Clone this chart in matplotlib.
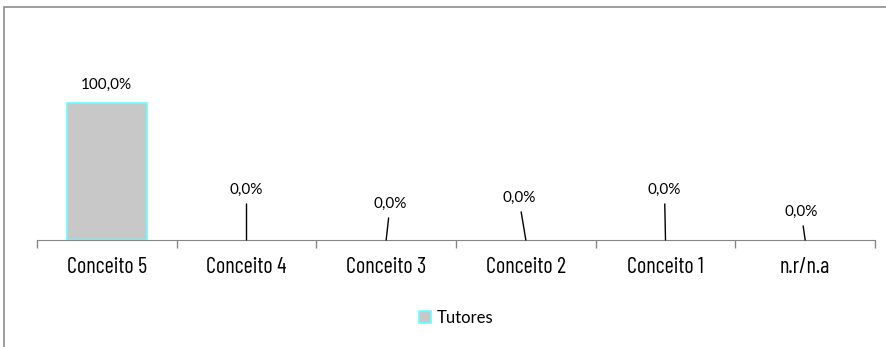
import matplotlib
matplotlib.use("Agg")
import matplotlib.pyplot as plt
from matplotlib.patches import Rectangle, Patch

# Chart data
categories = ["Conceito 5", "Conceito 4", "Conceito 3", "Conceito 2", "Conceito 1", "n.r/n.a"]
tutores = [100.0, 0.0, 0.0, 0.0, 0.0, 0.0]
series_name = "Tutores"

# label offsets (pixels) for the data labels, as placed in the original
label_offsets = [(0, 18), (0, 50), (4, 36), (-7, 42), (-1, 50), (-4, 28)]

W, H = 887, 347
fig = plt.figure(figsize=(W / 100, H / 100), dpi=100)
fig.patch.set_facecolor("white")

# outer chart frame (runs off the right/bottom edge)
fig.patches.append(Rectangle((4 / W, -0.2), 2, 1.2 - 7 / H, transform=fig.transFigure,
                             fill=False, edgecolor="#8c8c8c", lw=1.2))

ax_bottom = (H - 240) / H
ax_top = 240 - 137 * 1.2
ax = fig.add_axes([37 / W, ax_bottom, 838 / W, (240 - ax_top) / H])

x = list(range(len(categories)))
# zero-height bars get no visible edge, like in the original
edge_w = [1.2 if v > 0 else 0 for v in tutores]
ax.bar(x, tutores, width=0.57, color="#c8c8c8", edgecolor="#66ffff", linewidth=edge_w, zorder=2)
ax.set_xlim(-0.5, len(categories) - 0.5)
ax.set_ylim(0, 120)

label_font = ["Lato", "DejaVu Sans"]
for i, v in enumerate(tutores):
    dx, dy = label_offsets[i]
    txt = f"{v:.1f}%".replace(".", ",")
    if v > 0:
        ax.annotate(txt, xy=(i, v), xytext=(dx, dy), textcoords="offset pixels",
                    ha="center", va="center", fontsize=11, family=label_font)
    else:
        ax.annotate(txt, xy=(i, v), xytext=(dx, dy), textcoords="offset pixels",
                    ha="center", va="center", fontsize=11, family=label_font,
                    arrowprops=dict(arrowstyle="-", color="black", lw=1,
                                    shrinkA=3, shrinkB=0),
                    annotation_clip=False)

for s in ["top", "right", "left"]:
    ax.spines[s].set_visible(False)
ax.spines["bottom"].set_color("#868686")
ax.set_yticks([])

ax.set_xticks(x)
ax.set_xticklabels(categories, family=["Barlow Condensed", "DejaVu Sans"], fontsize=16)
ax.tick_params(axis="x", which="major", length=0, pad=12)
ax.set_xticks([i - 0.5 for i in range(len(categories) + 1)], minor=True)
ax.tick_params(axis="x", which="minor", length=6, color="#868686", width=1)

handle = Patch(facecolor="#c8c8c8", edgecolor="#66ffff", linewidth=1.2)
fig.legend([handle], [series_name], loc="center", bbox_to_anchor=(456 / W, 1 - 318 / H),
           frameon=False, prop={"family": label_font, "size": 12},
           handlelength=0.75, handleheight=0.75, handletextpad=0.3)

fig.savefig("out.png", dpi=100)
